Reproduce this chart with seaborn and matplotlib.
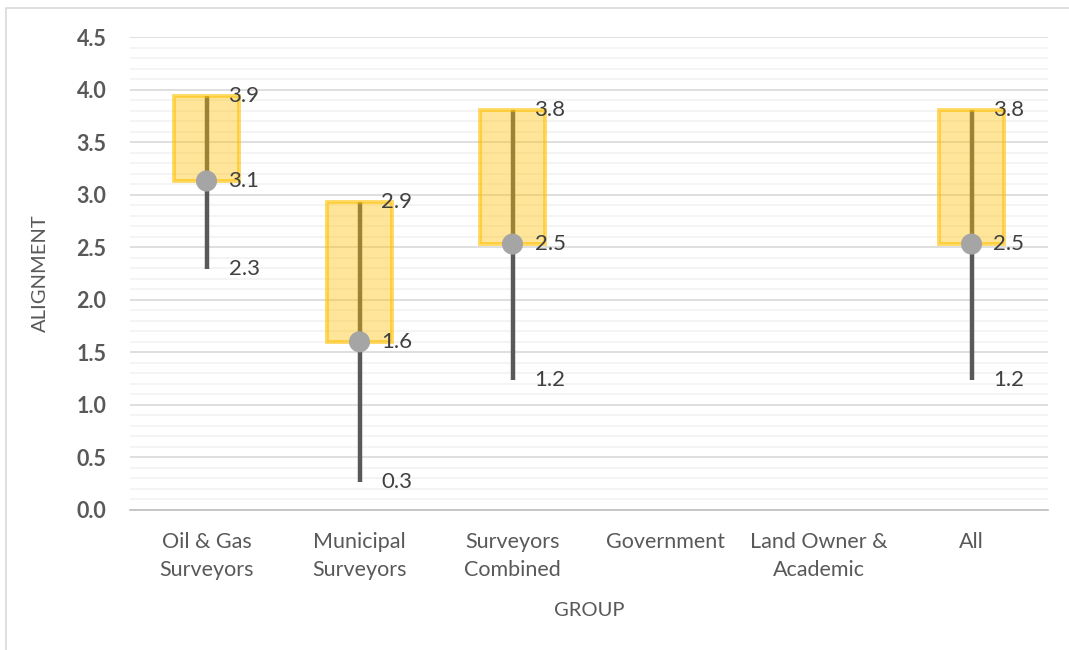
import matplotlib
matplotlib.use("Agg")
import matplotlib.pyplot as plt
from matplotlib.patches import Rectangle
from matplotlib.ticker import MultipleLocator, FixedLocator, FormatStrFormatter
import numpy as np
import pandas as pd
import seaborn as sns

# Alignment summary per respondent group (high / median / low)
groups = ["Oil & Gas\nSurveyors", "Municipal\nSurveyors", "Surveyors\nCombined",
          "Government", "Land Owner &\nAcademic", "All"]
high = [3.94, 2.93, 3.81, np.nan, np.nan, 3.81]
median = [3.13, 1.60, 2.53, np.nan, np.nan, 2.53]
low = [2.29, 0.27, 1.24, np.nan, np.nan, 1.24]

df = pd.DataFrame({"group": groups, "high": high, "median": median, "low": low})
df["pos"] = np.arange(len(groups))

sns.set_theme(style="white")
plt.rcParams["font.family"] = ["Lato", "DejaVu Sans"]

text_col = "#595959"
fig = plt.figure(figsize=(10.69, 6.5), dpi=100)
ax = fig.add_axes([130 / 1069, 1 - 510 / 650, (1048 - 130) / 1069, (510 - 37) / 650])

# chart frame
fig.patches.append(Rectangle((6 / 1069, -0.1), 1.2, 1 - 8 / 650 + 0.1,
                             transform=fig.transFigure, fill=False,
                             edgecolor="#d9d9d9", linewidth=1.2, zorder=0))

d = df.dropna()

# low-high range lines
ax.vlines(d["pos"], d["low"], d["high"], color="#595959", linewidth=3.2, zorder=2)

# median-to-high boxes
ax.bar(d["pos"], d["high"] - d["median"], bottom=d["median"], width=0.42,
       facecolor=(1, 0.753, 0, 0.4), edgecolor=(1, 0.753, 0, 0.6),
       linewidth=2.8, zorder=3)

# median markers
sns.scatterplot(data=d, x="pos", y="median", ax=ax, s=230, color="#a5a5a5",
                edgecolor="none", zorder=4, legend=False)

# value labels
for _, r in d.iterrows():
    for col in ["high", "median", "low"]:
        ax.annotate(f"{r[col]:.1f}", (r["pos"], r[col]), xytext=(22, 0),
                    textcoords="offset pixels",
                    va="center", ha="left", fontsize=16, color="#404040", zorder=5)

ax.set_xlim(-0.5, len(groups) - 0.5)
ax.set_ylim(0, 4.5)
ax.yaxis.set_major_locator(MultipleLocator(0.5))
ax.yaxis.set_minor_locator(MultipleLocator(0.1))
ax.yaxis.set_major_formatter(FormatStrFormatter("%.1f"))
ax.set_xticks(df["pos"])
ax.set_xticklabels(groups, linespacing=1.5)
ax.xaxis.set_minor_locator(FixedLocator(np.arange(-0.5, len(groups), 1.0)))

ax.grid(axis="y", which="major", color="#d9d9d9", linewidth=1.2, zorder=0)
ax.grid(axis="y", which="minor", color="#f2f2f2", linewidth=1.2, zorder=0)
ax.grid(axis="x", visible=False)
ax.set_axisbelow(True)

for s in ["top", "right", "left"]:
    ax.spines[s].set_visible(False)
ax.spines["bottom"].set_color("#bfbfbf")
ax.spines["bottom"].set_linewidth(1.2)

ax.tick_params(axis="x", which="major", length=0, pad=16, labelsize=15.5, labelcolor=text_col)
ax.tick_params(axis="x", which="minor", length=7, width=1.2, color="#bfbfbf", direction="out")
ax.tick_params(axis="y", which="both", length=0, pad=17, labelsize=15.5, labelcolor=text_col)
for t in ax.get_yticklabels():
    t.set_fontweight("bold")

ax.set_xlabel("GROUP", fontsize=14.5, color=text_col, labelpad=16)
ax.set_ylabel("ALIGNMENT", fontsize=14.5, color=text_col, labelpad=20)

fig.savefig("out.png", dpi=100)
